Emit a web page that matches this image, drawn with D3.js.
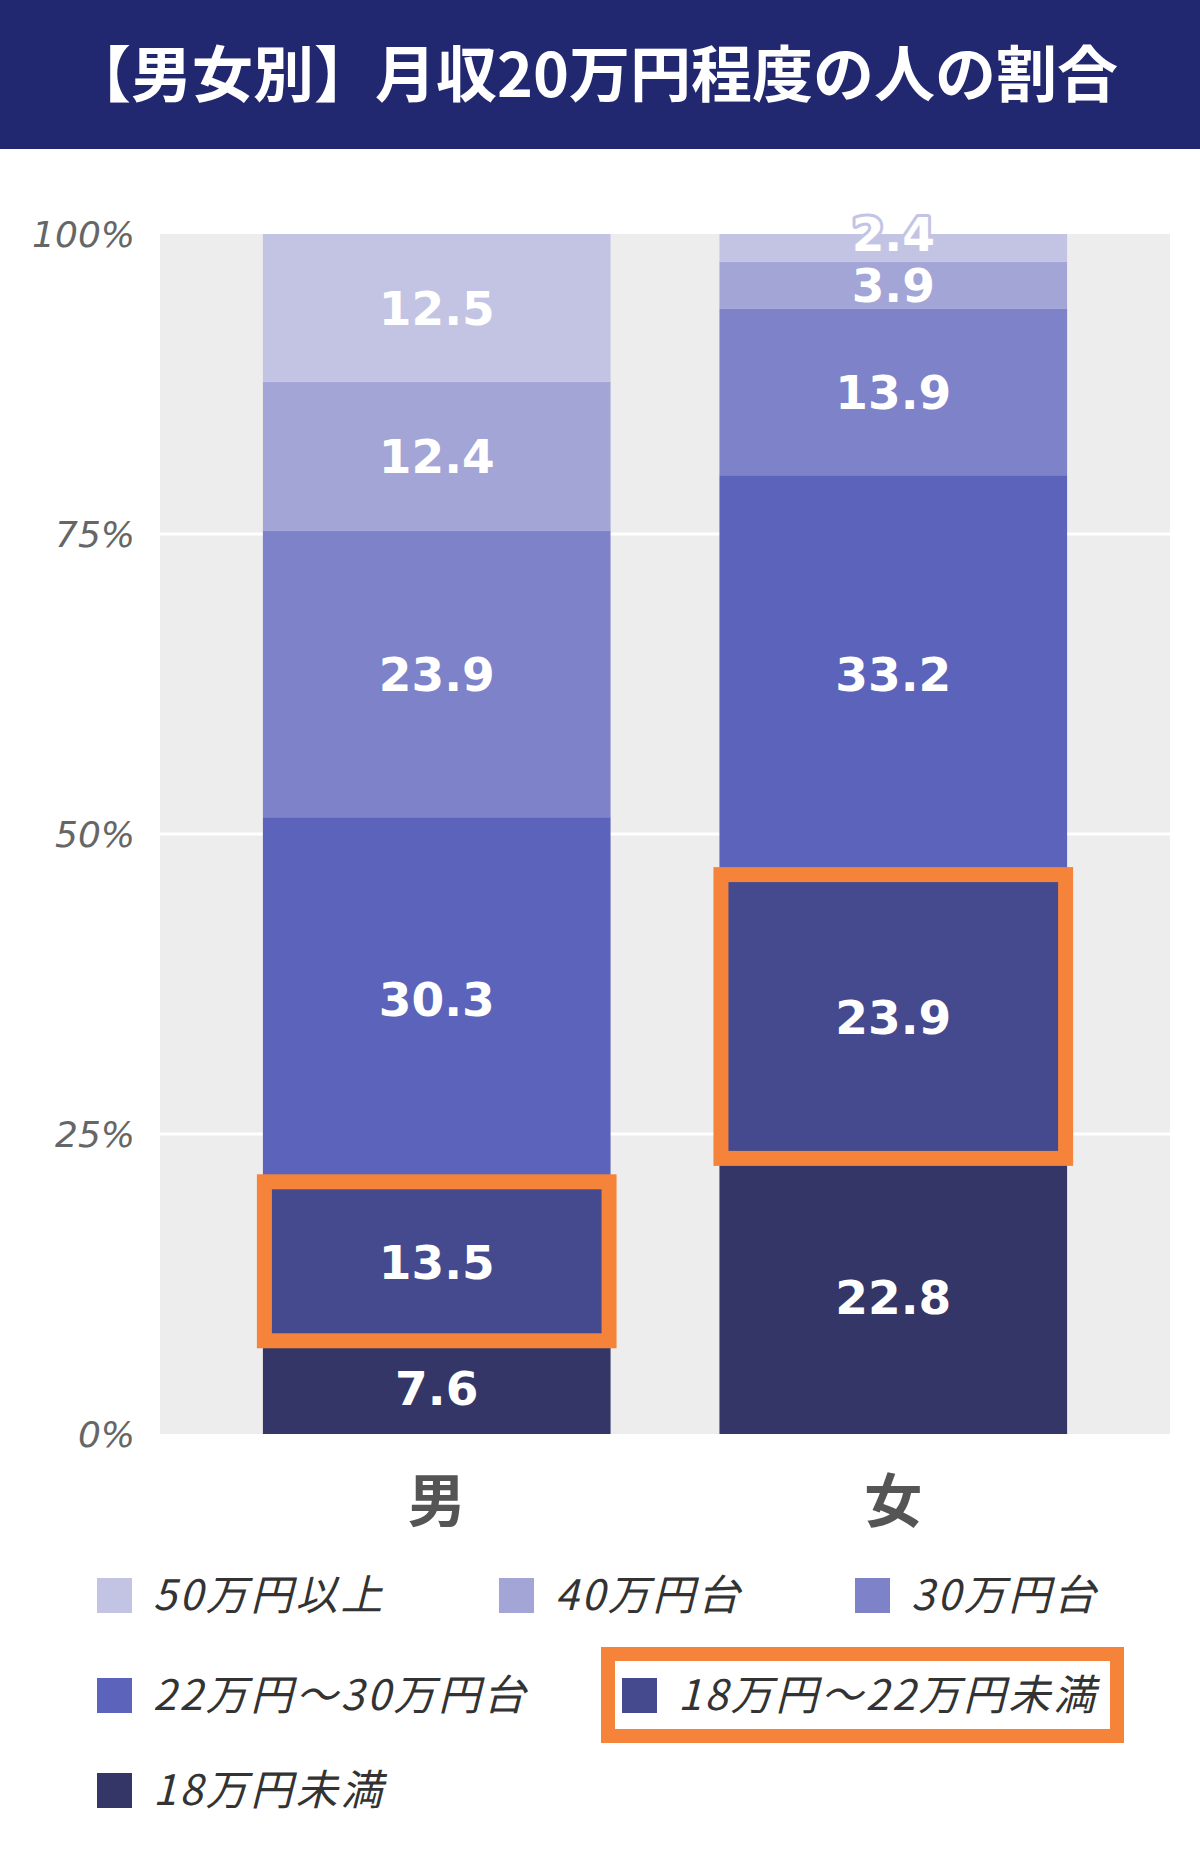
<!DOCTYPE html>
<html lang="ja">
<head>
<meta charset="utf-8">
<script src="https://cdn.jsdelivr.net/npm/d3@7.8.5/dist/d3.min.js"></script>
<style>
  html, body { margin: 0; padding: 0; background: #fff; }
  svg { display: block; }
</style>
</head>
<body>
<div id="chart"></div>
<script>
// chart data
const title = '【男女別】月収20万円程度の人の割合';
const categories = ['男', '女'];
// series, bottom of the stack first
const seriesNames = ['18万円未満', '18万円〜22万円未満', '22万円〜30万円台', '30万円台', '40万円台', '50万円以上'];
const maleValues = [7.6, 13.5, 30.3, 23.9, 12.4, 12.5];
const femaleValues = [22.8, 23.9, 33.2, 13.9, 3.9, 2.4];
const seriesColors = ['#333666', '#454a8e', '#5c63ba', '#7e82c8', '#a2a5d6', '#c3c4e4'];
const tickValues = [0, 25, 50, 75, 100];
const tickLabels = ['0%', '25%', '50%', '75%', '100%'];
const highlightSeries = '18万円〜22万円未満';
// legend order as shown
const legendOrder = ['50万円以上', '40万円台', '30万円台', '22万円〜30万円台', '18万円〜22万円未満', '18万円未満'];

const width = 1200, height = 1863;
const plot = { left: 160, right: 1170, top: 234, bottom: 1434 };
const orange = '#f5843a';
const jpFont = '"Noto Sans CJK JP", "Noto Sans", sans-serif';
const numFont = 'Verdana, "DejaVu Sans", sans-serif';

const svg = d3.select('#chart').append('svg')
    .attr('width', width)
    .attr('height', height);

// title band
svg.append('rect')
    .attr('x', 0).attr('y', 0)
    .attr('width', width).attr('height', 149)
    .attr('fill', '#222870');

svg.append('text')
    .attr('x', 594)
    .attr('y', 75)
    .attr('dy', '0.36em')
    .attr('text-anchor', 'middle')
    .style('font-family', jpFont)
    .style('font-weight', 'bold')
    .style('font-size', '61px')
    .style('fill', '#fff')
    .text(title);

// scales
const x = d3.scaleBand()
    .domain(categories)
    .range([plot.left, plot.right])
    .paddingInner(0.2385)
    .paddingOuter(0.2254);

const y = d3.scaleLinear()
    .domain([0, 100])
    .range([plot.bottom, plot.top]);

const color = d3.scaleOrdinal().domain(seriesNames).range(seriesColors);

// rows for the stack
const rows = categories.map((c, i) => {
    const vals = i === 0 ? maleValues : femaleValues;
    const row = { category: c };
    seriesNames.forEach((s, j) => { row[s] = vals[j]; });
    return row;
});
const stacked = d3.stack().keys(seriesNames)(rows);

// plot background
svg.append('rect')
    .attr('x', plot.left).attr('y', plot.top)
    .attr('width', plot.right - plot.left)
    .attr('height', plot.bottom - plot.top)
    .attr('fill', '#ededed');

// gridlines
svg.append('g')
    .selectAll('line')
    .data(tickValues.filter(t => t > 0 && t < 100))
    .join('line')
    .attr('x1', plot.left).attr('x2', plot.right)
    .attr('y1', d => y(d)).attr('y2', d => y(d))
    .attr('stroke', '#fff')
    .attr('stroke-width', 3);

// y tick labels
svg.append('g')
    .selectAll('text')
    .data(tickValues)
    .join('text')
    .attr('x', 135)
    .attr('y', d => y(d))
    .attr('dy', '0.36em')
    .attr('text-anchor', 'end')
    .style('font-family', numFont)
    .style('font-style', 'italic')
    .style('font-size', '36px')
    .style('fill', '#666')
    .text((d, i) => tickLabels[i]);

// clip bars at 100%
svg.append('clipPath').attr('id', 'plot-clip')
    .append('rect')
    .attr('x', plot.left).attr('y', plot.top)
    .attr('width', plot.right - plot.left)
    .attr('height', plot.bottom - plot.top);

// bars
const layers = svg.append('g')
    .attr('clip-path', 'url(#plot-clip)')
    .selectAll('g')
    .data(stacked)
    .join('g')
    .attr('fill', d => color(d.key));

layers.selectAll('rect')
    .data(d => d)
    .join('rect')
    .attr('x', d => x(d.data.category))
    .attr('width', x.bandwidth())
    .attr('y', d => y(d[1]))
    .attr('height', d => y(d[0]) - y(d[1]));

// highlight boxes
const hl = stacked.find(s => s.key === highlightSeries);
svg.append('g')
    .selectAll('rect')
    .data(hl)
    .join('rect')
    .attr('x', d => x(d.data.category) + 1.5)
    .attr('width', x.bandwidth() - 3)
    .attr('y', d => y(d[1]) + 1)
    .attr('height', d => y(d[0]) - y(d[1]) - 3)
    .attr('fill', 'none')
    .attr('stroke', orange)
    .attr('stroke-width', 15);

// value labels
const labelData = [];
stacked.forEach(s => {
    s.forEach(d => {
        const top = y(Math.min(d[1], 100));
        const bottom = y(d[0]);
        const h = bottom - top;
        labelData.push({
            key: s.key,
            value: d.data[s.key],
            cx: x(d.data.category) + x.bandwidth() / 2,
            cy: h < 35 ? top : (top + bottom) / 2
        });
    });
});

svg.append('g')
    .selectAll('text')
    .data(labelData)
    .join('text')
    .attr('x', d => d.cx)
    .attr('y', d => d.cy)
    .attr('dy', '0.36em')
    .attr('text-anchor', 'middle')
    .style('font-family', numFont)
    .style('font-weight', 'bold')
    .style('font-size', '47px')
    .style('fill', '#fff')
    .style('stroke', d => color(d.key))
    .style('stroke-width', '6px')
    .style('stroke-linejoin', 'round')
    .style('paint-order', 'stroke')
    .text(d => d3.format('.1f')(d.value));

// category labels
svg.append('g')
    .selectAll('text')
    .data(categories)
    .join('text')
    .attr('x', d => x(d) + x.bandwidth() / 2)
    .attr('y', 1501)
    .attr('dy', '0.36em')
    .attr('text-anchor', 'middle')
    .style('font-family', jpFont)
    .style('font-weight', 'bold')
    .style('font-size', '58px')
    .style('fill', '#555')
    .text(d => d);

// legend
const legendPos = [
    [97, 1595], [499, 1595], [855, 1595],
    [97, 1695], [622, 1695],
    [97, 1790]
];

// orange frame round the highlighted legend item
const hlIndex = legendOrder.indexOf(highlightSeries);
svg.append('rect')
    .attr('x', legendPos[hlIndex][0] - 14)
    .attr('y', legendPos[hlIndex][1] - 41)
    .attr('width', 509)
    .attr('height', 82)
    .attr('fill', '#fff')
    .attr('stroke', orange)
    .attr('stroke-width', 14);

const legend = svg.append('g')
    .selectAll('g')
    .data(legendOrder)
    .join('g')
    .attr('transform', (d, i) => `translate(${legendPos[i][0]},${legendPos[i][1]})`);

legend.append('rect')
    .attr('x', 0).attr('y', -17)
    .attr('width', 35).attr('height', 35)
    .attr('fill', d => color(d));

legend.append('text')
    .attr('x', 56)
    .attr('y', 0)
    .attr('dy', '0.36em')
    .style('font-family', jpFont)
    .style('font-style', 'italic')
    .style('font-size', '42px')
    .style('letter-spacing', '3px')
    .style('fill', '#333')
    .text(d => d);
</script>
</body>
</html>
